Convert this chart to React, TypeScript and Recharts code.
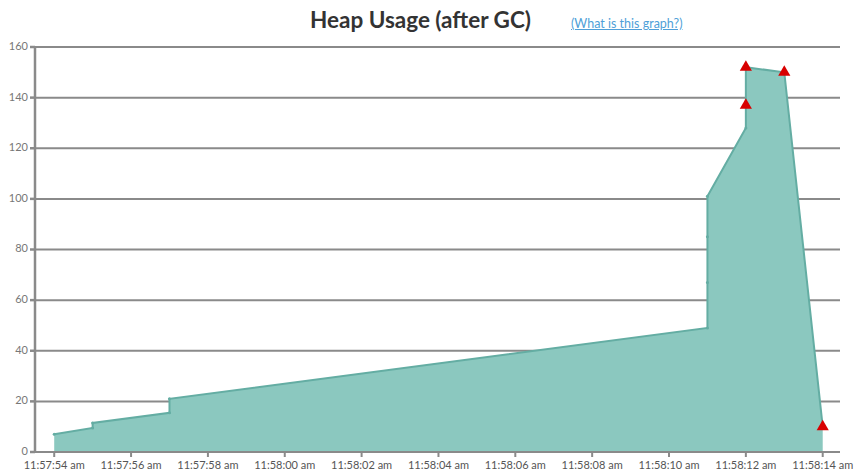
import { ComposedChart, Area, Scatter, XAxis, YAxis, CartesianGrid } from "recharts";

// seconds after 11:57:54 am
const heapTimes = [0, 1, 1, 3, 3, 17, 17, 17, 17, 18, 18, 18, 19, 20];
const heapValues = [7, 9.5, 11.5, 15.5, 21, 49, 67, 85, 101, 128, 137, 152, 150, 10];

const gcTimes = [18, 18, 19, 20];
const gcValues = [137, 152, 150, 10];

const tickSeconds = [0, 2, 4, 6, 8, 10, 12, 14, 16, 18, 20];
const tickLabels = [
  "11:57:54 am",
  "11:57:56 am",
  "11:57:58 am",
  "11:58:00 am",
  "11:58:02 am",
  "11:58:04 am",
  "11:58:06 am",
  "11:58:08 am",
  "11:58:10 am",
  "11:58:12 am",
  "11:58:14 am",
];
const yTicks = [0, 20, 40, 60, 80, 100, 120, 140, 160];

const heapData = heapTimes.map((t, i) => ({ t, heap: heapValues[i] }));
const gcData = gcTimes.map((t, i) => ({ t, gc: gcValues[i] }));

const FONT = "Lato, 'Open Sans', sans-serif";
const TEAL = "#8bc8bf";
const TEAL_LINE = "#64ada3";
const GRID = "#8a8a8a";

export default function App() {
  return (
    <div style={{ position: "absolute", left: 0, top: 0, width: 861, height: 475, background: "#fff", fontFamily: FONT }}>
      <div
        style={{
          position: "absolute",
          left: 310,
          top: 6,
          fontSize: 22.5,
          fontWeight: 700,
          color: "#333",
          whiteSpace: "nowrap",
        }}
      >
        Heap Usage (after GC)
      </div>
      <a
        href="#"
        style={{
          position: "absolute",
          left: 571,
          top: 16,
          fontSize: 12.5,
          color: "#4f9fd8",
          textDecoration: "underline",
          whiteSpace: "nowrap",
        }}
      >
        (What is this graph?)
      </a>
      <div style={{ position: "absolute", left: 0, top: 0 }}>
        <ComposedChart width={861} height={475} margin={{ top: 47, right: 21, bottom: 0, left: 0 }}>
          <CartesianGrid vertical={false} stroke={GRID} strokeWidth={2} />
          <XAxis
            dataKey="t"
            type="number"
            domain={[-0.5, 20.45]}
            ticks={tickSeconds}
            tickFormatter={(v: number) => tickLabels[tickSeconds.indexOf(v)] ?? ""}
            allowDuplicatedCategory
            height={23}
            stroke={GRID}
            strokeWidth={2}
            tickSize={5}
            tickMargin={4}
            tick={{ fill: "#555", fontSize: 11, fontFamily: FONT }}
            interval={0}
          />
          <YAxis
            type="number"
            domain={[0, 160]}
            ticks={yTicks}
            width={35}
            stroke={GRID}
            strokeWidth={2.5}
            tickSize={5}
            tickMargin={2}
            tick={{ fill: "#777", fontSize: 11, fontFamily: FONT, dy: -1 }}
            interval={0}
          />
          <Area
            data={heapData}
            dataKey="heap"
            type="linear"
            fill={TEAL}
            fillOpacity={1}
            stroke={TEAL_LINE}
            strokeWidth={2}
            dot={{ r: 1.5, fill: TEAL_LINE, stroke: "none" }}
            activeDot={false}
            isAnimationActive={false}
          />
          <Scatter
            data={gcData}
            dataKey="gc"
            shape="triangle"
            fill="#d80000"
            isAnimationActive={false}
          />
        </ComposedChart>
      </div>
    </div>
  );
}
